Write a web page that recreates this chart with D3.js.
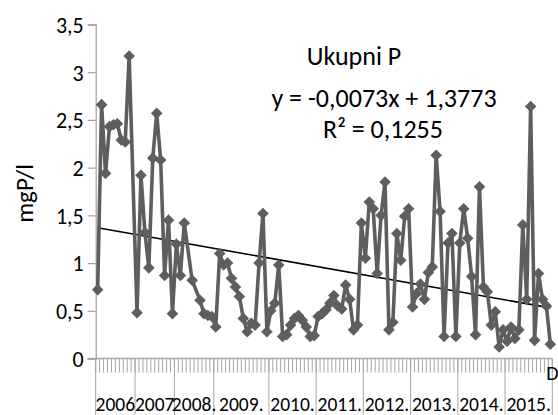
<!DOCTYPE html>
<html>
<head>
<meta charset="utf-8">
<script src="https://cdn.jsdelivr.net/npm/d3@7"></script>
<style>
  html, body { margin: 0; padding: 0; background: #fff; }
  svg { display: block; font-family: Carlito, Calibri, Lato, sans-serif; }
</style>
</head>
<body>
<svg id="chart" width="558" height="415"></svg>
<script>
// Year groups of the category axis and how many samples each holds
const years = ["2006", "2007", "2008.", "2009.", "2010.", "2011.", "2012.", "2013.", "2014.", "2015."];
const samplesPerYear = [10, 10, 10, 14, 12, 12, 12, 12, 12, 12];
const lastCategoryLabel = "D";

// Total phosphorus, mgP/l (null = no sample, line connects across)
const values2006 = [0.72, 2.66, 1.94, 2.43, 2.45, 2.46, 2.29, 2.27, 3.17, null];
const values2007 = [0.48, 1.92, 1.32, 0.95, 2.10, 2.57, 2.08, 0.87, 1.45, 0.47];
const values2008 = [1.20, 0.87, 1.42, null, 0.82, null, 0.61, 0.47, 0.45, 0.44];
const values2009 = [0.33, 1.10, 0.98, 1.00, 0.84, 0.75, 0.65, 0.42, 0.28, 0.37, 0.35, 1.00, 1.52, 0.28];
const values2010 = [0.50, 0.58, 0.98, 0.23, 0.25, 0.35, 0.42, 0.45, 0.40, 0.33, 0.23, 0.24];
const values2011 = [0.44, 0.47, 0.51, 0.58, 0.66, 0.55, 0.52, 0.77, 0.62, 0.30, 0.35, 1.42];
const values2012 = [1.05, 1.64, 1.57, 0.89, 1.50, 1.85, 0.30, 0.38, 1.31, 1.03, 1.49, 1.57];
const values2013 = [0.54, 0.68, 0.78, 0.62, 0.90, 0.96, 2.13, 1.54, 0.23, 1.21, 1.31, 0.23];
const values2014 = [1.21, 1.57, 1.26, 0.86, 0.25, 1.80, 0.75, 0.70, 0.35, 0.49, 0.12, 0.30];
const values2015 = [0.18, 0.33, 0.21, 0.30, 1.40, 0.62, 2.64, 0.19, 0.89, 0.62, 0.55, 0.15];

const yTicks = [0, 0.5, 1, 1.5, 2, 2.5, 3, 3.5];
const trendSlope = -0.0073;
const trendIntercept = 1.3773;
const trendR2 = 0.1255;

const titleText = "Ukupni P";
const yAxisTitle = "mgP/l";

// ---------------------------------------------------------------
const values = [].concat(values2006, values2007, values2008, values2009, values2010,
                         values2011, values2012, values2013, values2014, values2015);
const n = values.length;
const idx = d3.range(n);

const fmt = v => String(v).replace(".", ",");

const svg = d3.select("#chart");
const plotLeft = 95.7, plotRight = 552.3, plotTop = 24.5, plotBottom = 358.5;

const x = d3.scaleBand().domain(idx).range([plotLeft, plotRight]).padding(0);
const y = d3.scaleLinear().domain([0, 3.5]).range([plotBottom, plotTop]);

const axisColor = "#a6a6a6";
const seriesColor = "#5e5e5e";

// Y axis
const yAxis = d3.axisLeft(y).tickValues(yTicks).tickSize(8).tickPadding(4).tickFormat(fmt);
const gy = svg.append("g").attr("transform", `translate(${plotLeft},0)`).call(yAxis);
gy.attr("font-family", null).attr("font-size", null);
gy.select(".domain").attr("stroke", axisColor).attr("stroke-width", 1.3);
gy.selectAll(".tick line").attr("stroke", axisColor).attr("stroke-width", 1.3);
gy.selectAll(".tick text").attr("fill", "#000").attr("font-size", 22).attr("dy", "0.36em");

// Y axis title
svg.append("text")
  .attr("transform", `translate(27,${(plotTop + plotBottom) / 2 + 2}) rotate(-90)`)
  .attr("text-anchor", "middle").attr("dominant-baseline", "middle")
  .attr("font-size", 25).attr("fill", "#000")
  .text(yAxisTitle);

// X axis: baseline, per-category ticks, year dividers
svg.append("line")
  .attr("x1", plotLeft - 8).attr("x2", plotRight).attr("y1", plotBottom).attr("y2", plotBottom)
  .attr("stroke", axisColor).attr("stroke-width", 1.3);

const boundaries = d3.range(n + 1).map(i => i < n ? x(i) : x(n - 1) + x.bandwidth());
svg.append("g").selectAll("line").data(boundaries).join("line")
  .attr("x1", d => d).attr("x2", d => d)
  .attr("y1", plotBottom).attr("y2", plotBottom + 14)
  .attr("stroke", axisColor).attr("stroke-width", 1);

let start = 0;
const groups = years.map((yr, k) => {
  const g = { label: yr, first: start, last: start + samplesPerYear[k] - 1 };
  start += samplesPerYear[k];
  return g;
});
const dividers = [x(0)].concat(groups.map(g => x(g.last) + x.bandwidth()));
svg.append("g").selectAll("line").data(dividers).join("line")
  .attr("x1", d => d).attr("x2", d => d)
  .attr("y1", plotBottom).attr("y2", 415)
  .attr("stroke", axisColor).attr("stroke-width", 1);

svg.append("g").selectAll("text").data(groups).join("text")
  .attr("x", g => (x(g.first) + x(g.last) + x.bandwidth()) / 2)
  .attr("y", 411)
  .attr("text-anchor", "middle")
  .attr("font-size", 19.5).attr("fill", "#000")
  .text(g => g.label);

svg.append("text")
  .attr("x", x(n - 1) - 2).attr("y", 380)
  .attr("font-size", 20).attr("fill", "#000")
  .text(lastCategoryLabel);

// Linear trend over the category index (1..n)
const trendY = i => trendSlope * (i + 1) + trendIntercept;
svg.append("line")
  .attr("x1", x(0) + x.bandwidth() / 2).attr("y1", y(trendY(0)))
  .attr("x2", x(n - 1) + x.bandwidth() / 2).attr("y2", y(trendY(n - 1)))
  .attr("stroke", "#000").attr("stroke-width", 1.6);

// Series line (missing samples bridged) and diamond markers
const pts = idx.filter(i => values[i] != null).map(i => [x(i) + x.bandwidth() / 2, y(values[i])]);
svg.append("path")
  .attr("d", d3.line()(pts))
  .attr("fill", "none").attr("stroke", seriesColor)
  .attr("stroke-width", 3.6).attr("stroke-linejoin", "round");

const r = 5.8;
svg.append("g").selectAll("path").data(pts).join("path")
  .attr("transform", d => `translate(${d[0]},${d[1]})`)
  .attr("d", `M0,${-r}L${r},0L0,${r}L${-r},0Z`)
  .attr("fill", seriesColor);

// Titles
svg.append("text")
  .attr("x", 354).attr("y", 65).attr("text-anchor", "middle")
  .attr("font-size", 26).attr("fill", "#000").text(titleText);
svg.append("text")
  .attr("x", 384).attr("y", 107).attr("text-anchor", "middle")
  .attr("font-size", 26).attr("fill", "#000")
  .text(`y = ${fmt(trendSlope)}x + ${fmt(trendIntercept)}`);
svg.append("text")
  .attr("x", 383).attr("y", 138).attr("text-anchor", "middle")
  .attr("font-size", 26).attr("fill", "#000")
  .text(`R² = ${fmt(trendR2)}`);
</script>
</body>
</html>
